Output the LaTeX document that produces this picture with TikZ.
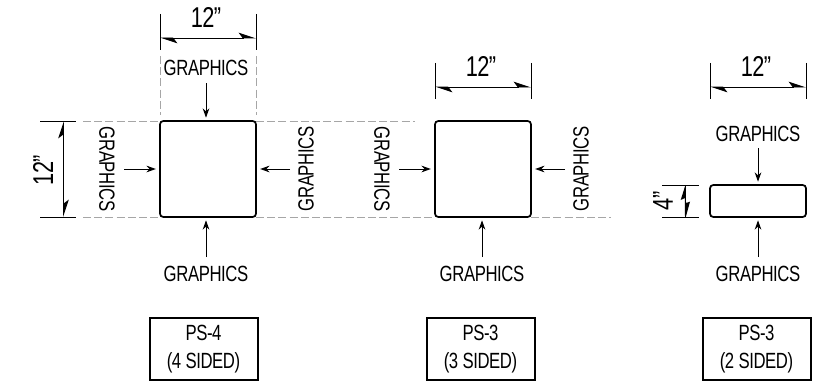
\documentclass[tikz,border=0pt]{standalone}
\usepackage{fontspec}
\setmainfont[FakeStretch=0.76,LetterSpace=-1.8]{Liberation Sans}
\usetikzlibrary{arrows.meta}
\tikzset{
    panelbox/.style={draw,line width=1.3pt,rounded corners=2.5pt,minimum width=72pt,inner sep=0pt},
    tagbox/.style={draw,line width=1.5pt,minimum width=81pt,minimum height=47pt,align=center,inner sep=0pt,font=\fontsize{16.5}{20.5}\selectfont},
    gfx/.style={inner sep=0pt,font=\fontsize{16.5}{18}\selectfont},
    size/.style={inner sep=0pt,font=\fontsize{21.5}{24}\selectfont},
    guide/.style={gray!70,line width=0.7pt,dash pattern=on 6pt off 2.4pt},
    tick/.style={line width=0.7pt},
    pointer/.style={line width=0.7pt,-{Stealth[length=7pt,width=5pt]},shorten >=2.5pt},
    dimen/.style={line width=0.7pt,{Stealth[harpoon,length=12pt,width=8pt,inset=3pt]}-{Stealth[harpoon,length=12pt,width=8pt,inset=3pt]}}
}
\begin{document}
\begin{tikzpicture}[x=0.75pt,y=-0.75pt]
\useasboundingbox (0,0) rectangle (830,385);
% the three sections
\node[panelbox,minimum height=72pt] (boxa) at (208,169) {};
\node[panelbox,minimum height=72pt] (boxb) at (483,169) {};
\node[panelbox,minimum height=24pt] (boxc) at (758,201) {};
% overall width above each section
\foreach \sec/\x/\y in {a/208/14,b/483/63,c/758/63}
{
    \coordinate (ticktl\sec) at (\x-48,\y);
    \coordinate (tickbl\sec) at (\x-48,\y+36);
    \coordinate (ticktr\sec) at (\x+48,\y);
    \coordinate (tickbr\sec) at (\x+48,\y+36);
    \coordinate (dimw\sec) at (\x-48,\y+24);
    \coordinate (dime\sec) at (\x+48,\y+24);
    \node[size] (width\sec) at (\x-2,\y+3) {12”};
    \draw[tick] (ticktl\sec) -- (tickbl\sec);
    \draw[tick] (ticktr\sec) -- (tickbr\sec);
    \draw[dimen] (dimw\sec) -- (dime\sec);
}
% graphics from below, all sections
\foreach \sec/\x in {a/206,b/482,c/758}
{
    \node[gfx] (gfxs\sec) at (\x,274) {GRAPHICS};
    \coordinate (tails\sec) at (\x,257);
    \coordinate (heads\sec) at (\x,217);
    \draw[pointer] (tails\sec) -- (heads\sec);
}
% graphics from above
\node[gfx] (gfxna) at (206,68) {GRAPHICS};
\coordinate (tailna) at (206,83);
\coordinate (headna) at (206,121);
\draw[pointer] (tailna) -- (headna);
\node[gfx] (gfxnc) at (758,134) {GRAPHICS};
\coordinate (tailnc) at (758,148);
\coordinate (headnc) at (758,185);
\draw[pointer] (tailnc) -- (headnc);
% graphics from the sides
\foreach \sec/\lx/\rx in {a/107/306,b/382/581}
{
    \node[gfx,rotate=-90] (gfxw\sec) at (\lx,169) {GRAPHICS};
    \node[gfx,rotate=90] (gfxe\sec) at (\rx,169) {GRAPHICS};
    \coordinate (tailw\sec) at (\lx+17,169);
    \coordinate (taile\sec) at (\rx-16,169);
    \draw[pointer] (tailw\sec) -- (box\sec.west);
    \draw[pointer] (taile\sec) -- (box\sec.east);
}
% dashed guides
\draw[guide] (160,56) -- (160,115);
\draw[guide] (256,56) -- (256,115);
\draw[guide] (83,121) -- (160,121);
\draw[guide] (256,121) -- (415,121);
\draw[guide] (83,217) -- (160,217);
\draw[guide] (256,217) -- (435,217);
\draw[guide] (531,217) -- (611,217);
% heights
\draw[tick] (40,121) -- (76,121);
\draw[tick] (40,217) -- (76,217);
\coordinate (dimna) at (63.5,121);
\coordinate (dimsa) at (63.5,217);
\draw[dimen] (dimna) -- (dimsa);
\node[size,rotate=90] (heighta) at (43,170) {12”};
\draw[tick] (662,185) -- (699,185);
\draw[tick] (662,217) -- (699,217);
\fill (685.4,185) -- (680.7,200) -- (684.8,198) -- (685,217) -- (685.8,217) -- (690,201.7) -- (686,203) -- (685.8,185) -- cycle;
\node[size,rotate=90] (heightc) at (663,201) {4”};
% tags
\foreach \sec/\x/\nm/\sd in {a/203.5/PS-4/4,b/480.5/PS-3/3,c/756.5/PS-3/2}
{
    \node[tagbox] (tag\sec) at (\x,349) {\nm\\(\sd\ SIDED)};
}
\end{tikzpicture}
\end{document}
